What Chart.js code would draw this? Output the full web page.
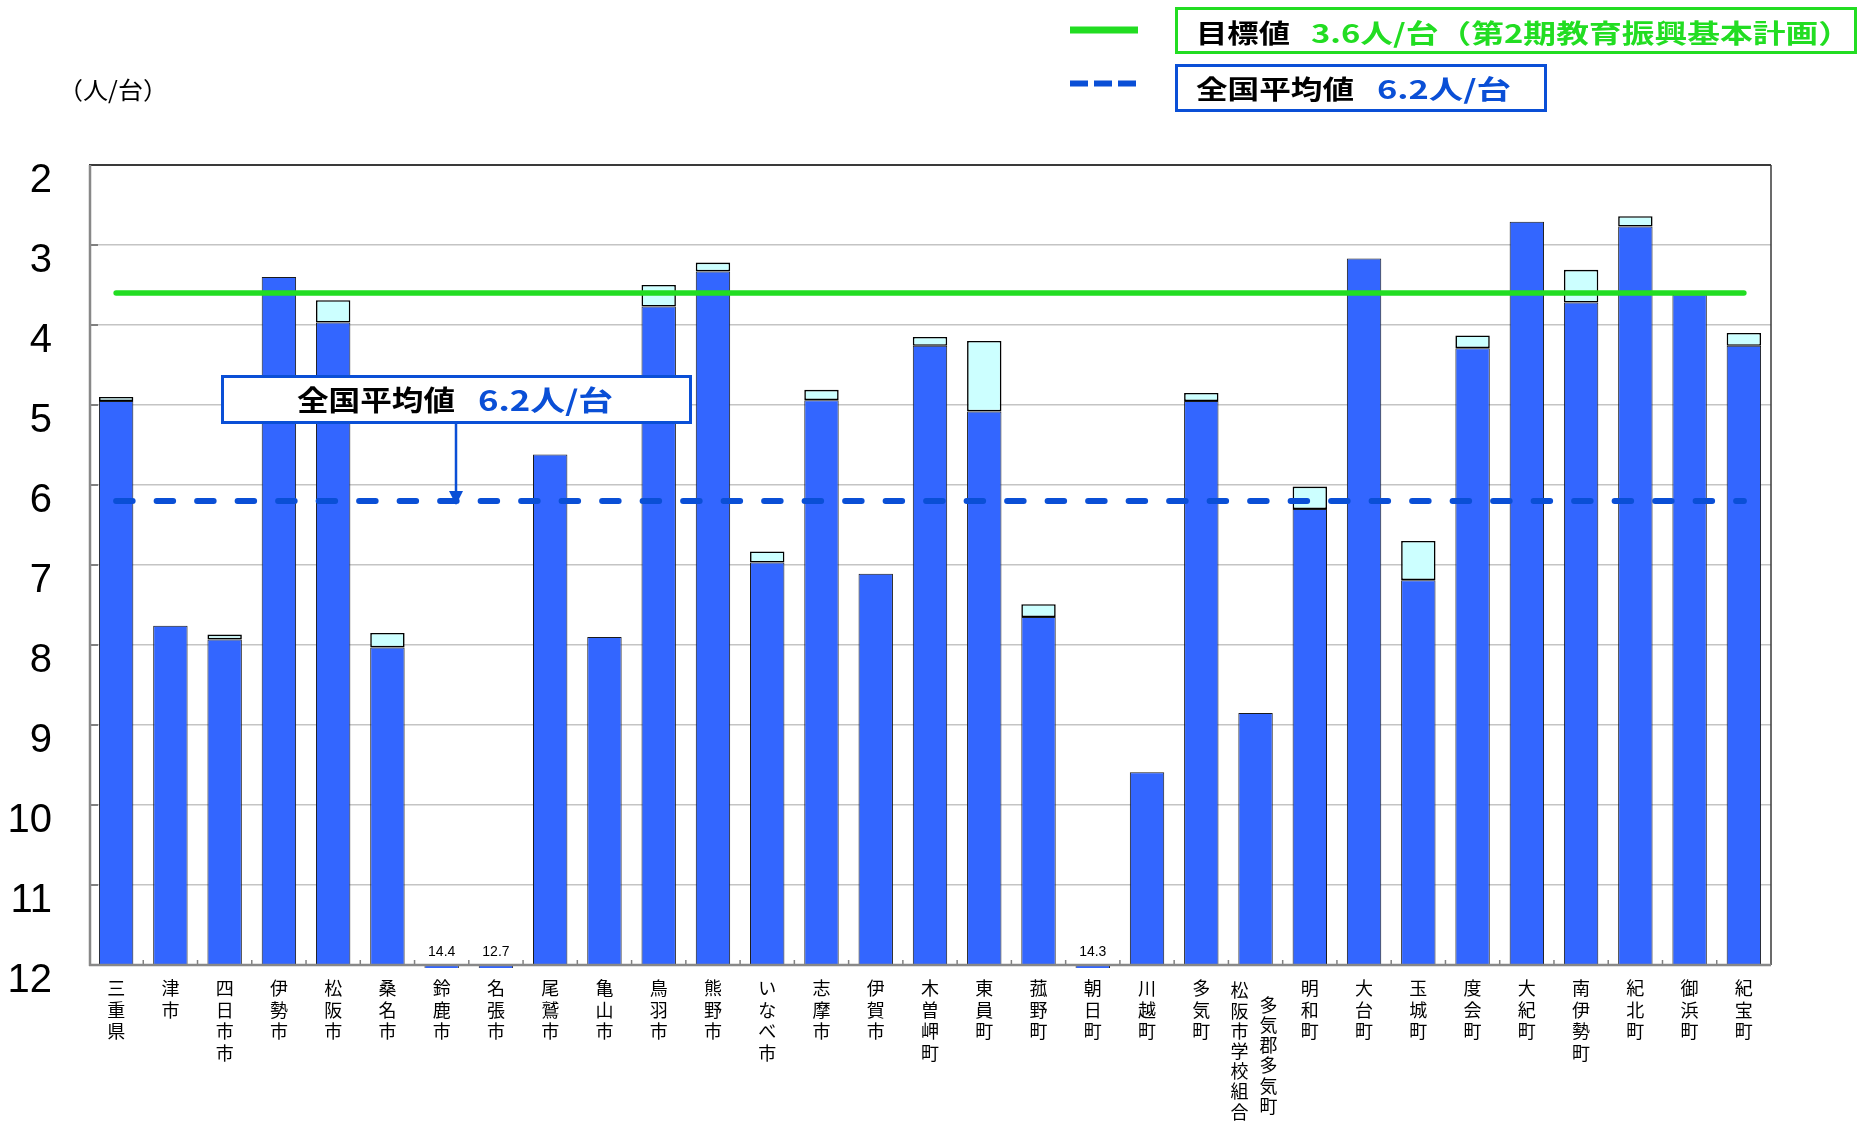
<!DOCTYPE html>
<html><head><meta charset="utf-8">
<script src="https://cdn.jsdelivr.net/npm/chart.js@4/dist/chart.umd.min.js"></script>
<style>html,body{margin:0;padding:0;background:#fff}#wrap{width:1866px;height:1126px;position:relative}</style>
</head><body><div id="wrap"><canvas id="c" width="1866" height="1126"></canvas></div>
<script>
// ---- data ----
const categoryColumns = [
  ['三重県'], ['津市'], ['四日市市'], ['伊勢市'], ['松阪市'], ['桑名市'], ['鈴鹿市'], ['名張市'],
  ['尾鷲市'], ['亀山市'], ['鳥羽市'], ['熊野市'], ['いなべ市'], ['志摩市'], ['伊賀市'], ['木曽岬町'],
  ['東員町'], ['菰野町'], ['朝日町'], ['川越町'], ['多気町'], ['松阪市学校組合', '多気郡多気町'],
  ['明和町'], ['大台町'], ['玉城町'], ['度会町'], ['大紀町'], ['南伊勢町'], ['紀北町'], ['御浜町'], ['紀宝町']
];
const blueValues = [4.95, 7.76, 7.93, 3.40, 3.97, 8.03, 14.4, 12.7, 5.62, 7.90, 3.77, 3.33, 6.97, 4.94, 7.11, 4.26,
  5.08, 7.65, 14.3, 9.59, 4.95, 8.85, 6.30, 3.17, 7.19, 4.29, 2.71, 3.72, 2.77, 3.62, 4.26];
const cyanValues = [4.90, null, 7.87, null, 3.69, 7.85, null, null, null, null, 3.50, 3.22, 6.83, 4.81, null, 4.15,
  4.20, 7.49, null, null, 4.85, null, 6.02, null, 6.70, 4.13, null, 3.31, 2.64, null, 4.10];
const yTickValues = [2, 3, 4, 5, 6, 7, 8, 9, 10, 11, 12];
const TARGET_VALUE = 3.6;
const NATIONAL_AVG = 6.2;
const targetLegendText = ['目標値', '3.6人/台（第2期教育振興基本計画）'];
const avgLegendText = ['全国平均値', '6.2人/台'];
const unitText = '（人/台）';

const Y_MIN = yTickValues[0], Y_MAX = yTickValues[yTickValues.length - 1];
const labels = categoryColumns.map(c => c.join(''));

const GREEN = '#22dd22';
const BLUE_LINE = '#0a4fd6';
const CJK = "'Noto Sans CJK JP'";

function line(ctx, x1, y1, x2, y2) { ctx.beginPath(); ctx.moveTo(x1, y1); ctx.lineTo(x2, y2); ctx.stroke(); }
function fitText(ctx, text, x0, x1, yc, font, color) {
  ctx.save();
  ctx.font = font; ctx.fillStyle = color; ctx.textAlign = 'left'; ctx.textBaseline = 'middle';
  const w = ctx.measureText(text).width;
  ctx.translate(x0, yc); ctx.scale((x1 - x0) / w, 1);
  ctx.fillText(text, 0, 0);
  ctx.restore();
}

const overlay = {
  id: 'overlay',
  afterDatasetsDraw(chart) {
    const { ctx, chartArea: a, scales: { x, y } } = chart;
    const n = labels.length;
    ctx.save();
    // inner y ticks
    ctx.strokeStyle = '#808080'; ctx.lineWidth = 2;
    yTickValues.forEach(v => { if (v > Y_MIN && v < Y_MAX) { const py = y.getPixelForValue(v); line(ctx, a.left, py, a.left + 9, py); } });
    // x boundary ticks
    const half = (x.getPixelForValue(1) - x.getPixelForValue(0)) / 2;
    ctx.lineWidth = 1.5;
    for (let i = 1; i < n; i++) { const bx = x.getPixelForValue(i) - half; line(ctx, bx, a.bottom - 5, bx, a.bottom); }
    // frame
    ctx.strokeStyle = '#3a3a3a'; ctx.lineWidth = 2;
    line(ctx, a.left, a.top, a.right, a.top);
    ctx.lineWidth = 1.5;
    line(ctx, a.right, a.top, a.right, a.bottom);
    ctx.strokeStyle = '#888888'; ctx.lineWidth = 2.5;
    line(ctx, a.left + 1, a.top, a.left + 1, a.bottom + 1);
    line(ctx, a.left, a.bottom, a.right, a.bottom);

    // reference lines
    const x0 = x.getPixelForValue(0), x1 = x.getPixelForValue(n - 1);
    ctx.lineCap = 'round';
    ctx.strokeStyle = GREEN; ctx.lineWidth = 5.5;
    const yT = y.getPixelForValue(TARGET_VALUE);
    line(ctx, x0, yT, x1, yT);
    const yA = y.getPixelForValue(NATIONAL_AVG);
    ctx.strokeStyle = BLUE_LINE; ctx.lineWidth = 6; ctx.setLineDash([16.5, 24]);
    line(ctx, x0, yA, x1, yA);
    ctx.setLineDash([]); ctx.lineCap = 'butt';

    // annotation box + arrow
    ctx.fillStyle = '#fff';
    ctx.fillRect(221, 375, 471, 49);
    ctx.strokeStyle = BLUE_LINE; ctx.lineWidth = 3;
    ctx.strokeRect(222.5, 376.5, 468, 46);
    ctx.lineWidth = 2.5;
    line(ctx, 456, 424, 456, yA - 8);
    ctx.fillStyle = BLUE_LINE;
    ctx.beginPath(); ctx.moveTo(449, yA - 10); ctx.lineTo(463, yA - 10); ctx.lineTo(456, yA + 4); ctx.closePath(); ctx.fill();
    fitText(ctx, avgLegendText[0], 297, 455, 400, `700 28px ${CJK}`, '#000');
    fitText(ctx, avgLegendText[1], 478, 613, 400, `700 28px ${CJK}`, BLUE_LINE);

    // over-range value labels
    ctx.font = '14px "Liberation Sans"'; ctx.fillStyle = '#000'; ctx.textAlign = 'center'; ctx.textBaseline = 'middle';
    blueValues.forEach((v, i) => { if (v > Y_MAX) ctx.fillText(v.toFixed(1), x.getPixelForValue(i), a.bottom - 13); });

    // vertical category labels
    ctx.font = `18px ${CJK}`; ctx.fillStyle = '#000'; ctx.textAlign = 'center'; ctx.textBaseline = 'middle';
    categoryColumns.forEach((cols, i) => {
      const cx = x.getPixelForValue(i);
      if (cols.length === 1) {
        [...cols[0]].forEach((ch, k) => ctx.fillText(ch, cx, a.bottom + 23 + k * 21.7));
      } else {
        const offs = [-16, 13], starts = [a.bottom + 25.5, a.bottom + 40];
        cols.forEach((col, c) => [...col].forEach((ch, k) => ctx.fillText(ch, cx + offs[c], starts[c] + k * 20.2)));
      }
    });

    // top legend
    ctx.strokeStyle = GREEN; ctx.lineWidth = 7;
    line(ctx, 1070, 30, 1138, 30);
    ctx.strokeStyle = BLUE_LINE; ctx.lineWidth = 6; ctx.setLineDash([18, 6]);
    line(ctx, 1070, 83.5, 1137, 83.5);
    ctx.setLineDash([]);
    ctx.lineWidth = 3;
    ctx.strokeStyle = GREEN; ctx.strokeRect(1176.5, 8.5, 679, 44);
    ctx.strokeStyle = BLUE_LINE; ctx.strokeRect(1176.5, 65.5, 369, 45);
    fitText(ctx, targetLegendText[0], 1196, 1290, 33, `700 26px ${CJK}`, '#000');
    fitText(ctx, targetLegendText[1], 1311, 1851, 33, `700 26px ${CJK}`, GREEN);
    fitText(ctx, avgLegendText[0], 1196, 1354, 89, `700 26px ${CJK}`, '#000');
    fitText(ctx, avgLegendText[1], 1377, 1511, 89, `700 26px ${CJK}`, BLUE_LINE);
    fitText(ctx, unitText, 58, 168, 90, `24px ${CJK}`, '#000');
    ctx.restore();
  }
};

new Chart(document.getElementById('c'), {
  type: 'bar',
  data: {
    labels,
    datasets: [
      {
        label: 'blue', data: blueValues.map(v => [Y_MAX, v]),
        backgroundColor: '#3366ff', borderColor: '#1a1a1a', borderWidth: 1, borderSkipped: false,
        grouped: false, barPercentage: 0.634, categoryPercentage: 1, order: 2,
        clip: { left: 10, top: 10, right: 10, bottom: 3 }
      },
      {
        label: 'cyan', data: blueValues.map((v, i) => cyanValues[i] == null ? null : [v, cyanValues[i]]),
        backgroundColor: '#ccffff', borderColor: '#000', borderWidth: 1.6, borderSkipped: false,
        grouped: false, barPercentage: 0.634, categoryPercentage: 1, order: 1
      }
    ]
  },
  options: {
    responsive: false, animation: false, events: [],
    layout: { padding: { left: 0, right: 95, top: 165, bottom: 0 } },
    plugins: { legend: { display: false }, tooltip: { enabled: false } },
    scales: {
      x: {
        type: 'category', offset: true,
        grid: { display: false }, border: { display: false },
        ticks: { display: false },
        afterFit(s) { s.height = 161; }
      },
      y: {
        type: 'linear', min: Y_MIN, max: Y_MAX, reverse: true,
        afterBuildTicks(s) { s.ticks = yTickValues.map(v => ({ value: v })); },
        grid: { color: '#c4c4c4', lineWidth: 1.5, drawTicks: false },
        border: { display: false },
        ticks: { font: { family: 'Liberation Sans', size: 40 }, color: '#000', padding: 37, labelOffset: 16 },
        afterFit(s) { s.width = 89; }
      }
    }
  },
  plugins: [overlay]
});
</script></body></html>
